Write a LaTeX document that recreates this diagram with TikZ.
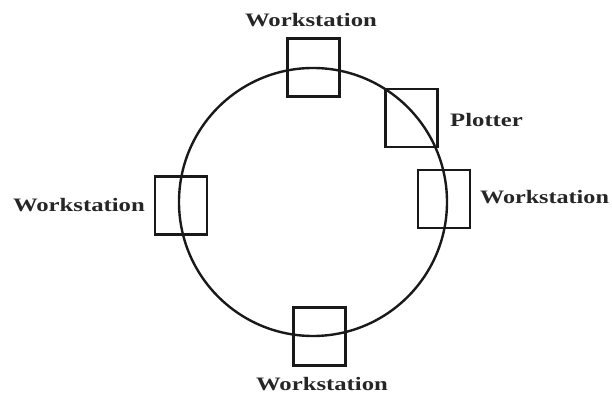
\documentclass[tikz,border=0pt]{standalone}
\usepackage{fontspec}
\setmainfont{Liberation Serif}
\usepackage{graphicx}
\begin{document}
\begin{tikzpicture}[x=1pt,y=-1pt,
  line/.style={line width=2.4pt, draw=black!90},
  station/.style={line, rectangle, inner sep=0pt, minimum width=52pt, minimum height=58pt},
  lbl/.style={inner sep=0pt, font=\fontsize{19}{19}\selectfont\bfseries, text=black!85}]
\useasboundingbox (0,0) rectangle (612,401);
\node[line, circle, minimum size=268pt, inner sep=0pt] (ring) at (313,202) {};
\node[station] (top) at (313.5,67.5) {};
\node[station] (plot) at (411.5,118) {};
\node[station] (right) at (444,199) {};
\node[station] (left) at (181,205.5) {};
\node[station] (bottom) at (319.5,336.5) {};
\node[lbl] (ltop) at (311,20) {\scalebox{1.3}[1]{Workstation}};
\node[lbl, anchor=west] (lplot) at (450,120) {\scalebox{1.3}[1]{Plotter}};
\node[lbl, anchor=west] (lright) at (480,197) {\scalebox{1.27}[1]{Workstation}};
\node[lbl, anchor=east] (lleft) at (145,205) {\scalebox{1.3}[1]{Workstation}};
\node[lbl] (lbottom) at (322,384) {\scalebox{1.3}[1]{Workstation}};
\end{tikzpicture}
\end{document}
